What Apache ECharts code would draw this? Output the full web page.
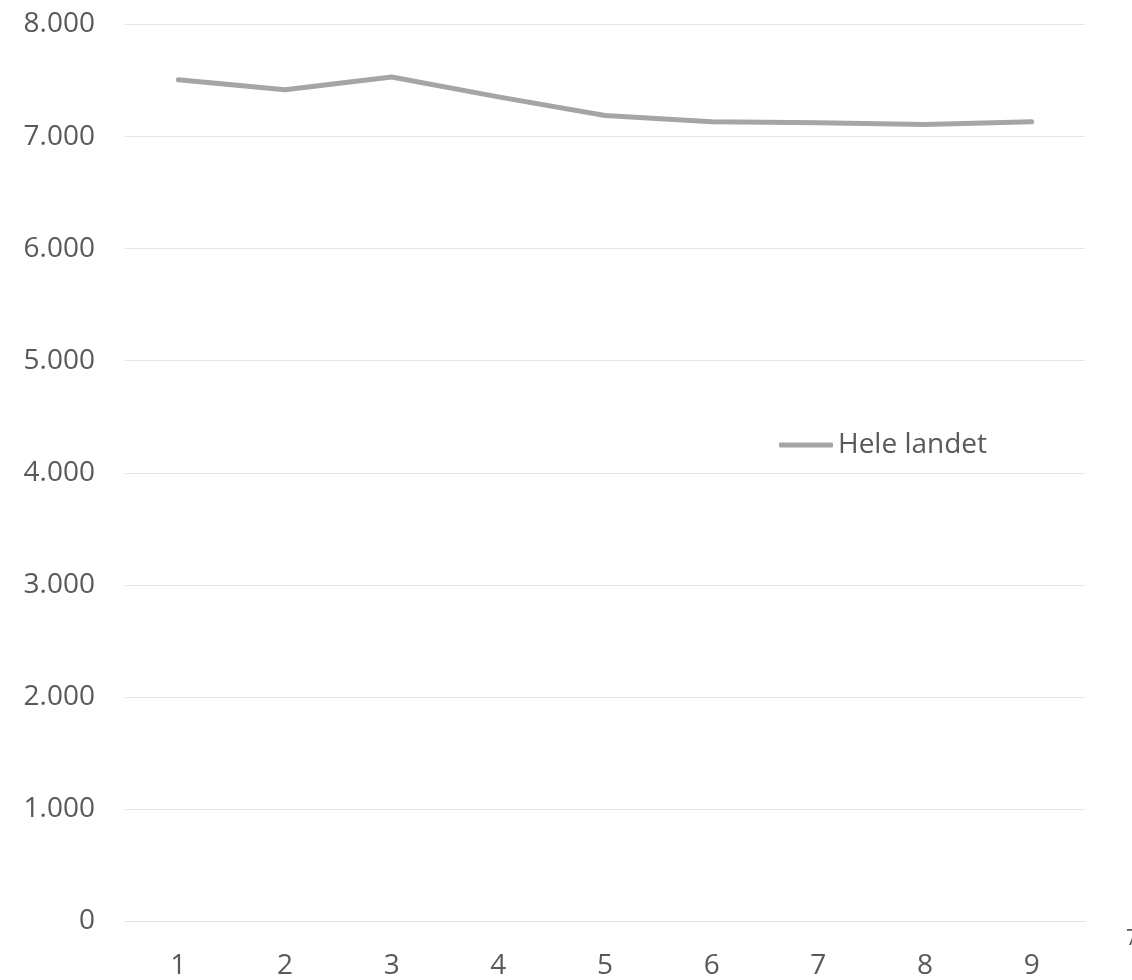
<!DOCTYPE html>
<html>
<head>
<meta charset="utf-8">
<script src="https://cdn.jsdelivr.net/npm/echarts@6/dist/echarts.min.js"></script>
<style>
  html, body { margin: 0; padding: 0; background: #fff; }
  #chart { width: 1132px; height: 980px; }
</style>
</head>
<body>
<div id="chart"></div>
<script>
// Categories on the x axis
const categories = ['1', '2', '3', '4', '5', '6', '7', '8', '9'];
// Series: Hele landet
const seriesName = 'Hele landet';
const heleLandet = [7507, 7418, 7531, 7354, 7188, 7132, 7123, 7108, 7132];
// Y axis range
const yMin = 0;
const yMax = 8000;
const yStep = 1000;

const chart = echarts.init(document.getElementById('chart'), null, { renderer: 'canvas' });
const fontFamily = '"Open Sans", "Noto Sans", sans-serif';
const textColor = '#595959';

chart.setOption({
  animation: false,
  backgroundColor: '#ffffff',
  grid: { left: 125, right: 47, top: 24.5, bottom: 54.3, containLabel: false },
  legend: {
    data: [seriesName],
    left: 774,
    top: 426,
    icon: 'roundRect',
    itemWidth: 54,
    itemHeight: 5,
    textStyle: { color: textColor, fontSize: 28, fontFamily: fontFamily }
  },
  xAxis: {
    type: 'category',
    data: categories,
    boundaryGap: true,
    axisLine: { lineStyle: { color: '#e3e3e3', width: 1 } },
    axisTick: { show: false },
    axisLabel: { color: textColor, fontSize: 28, fontFamily: fontFamily, margin: 31 }
  },
  yAxis: {
    type: 'value',
    min: yMin,
    max: yMax,
    interval: yStep,
    axisLine: { show: false },
    axisTick: { show: false },
    splitLine: { lineStyle: { color: '#e6e6e6', width: 1 } },
    axisLabel: {
      color: textColor, fontSize: 28, fontFamily: fontFamily, margin: 30,
      formatter: v => v === 0 ? '0' : (v / 1000).toFixed(3)
    }
  },
  series: [{
    name: seriesName,
    type: 'line',
    data: heleLandet,
    symbol: 'none',
    lineStyle: { color: '#a5a5a5', width: 5, cap: 'round', join: 'round' },
    itemStyle: { color: '#a5a5a5' }
  }],
  graphic: [{
    type: 'text',
    left: 1126,
    top: 929,
    style: { text: '7', fill: textColor, fontSize: 21, fontFamily: fontFamily }
  }]
});
</script>
</body>
</html>
